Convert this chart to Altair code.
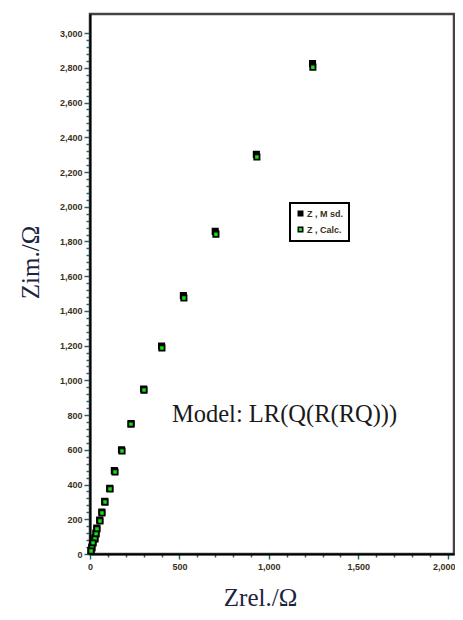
import altair as alt
import pandas as pd

# Calculated impedance (green squares)
zre_calc = [1246, 933, 704, 525, 402, 302, 229, 179, 140, 112, 84, 67, 56, 39, 34, 28, 17, 11, 6]
zim_calc = [2804, 2286, 1842, 1474, 1186, 944, 748, 593, 472, 374, 299, 236, 190, 144, 115, 86, 63, 35, 17]
# Measured impedance (black squares)
zre_msd = [1244, 930, 700, 522, 400, 300, 230, 176, 136, 110, 82, 66, 54, 38, 33, 27, 16, 10, 5]
zim_msd = [2825, 2302, 1858, 1488, 1198, 950, 752, 600, 480, 378, 303, 242, 196, 150, 120, 92, 68, 40, 20]

series_names = ["Z , M sd.", "Z , Calc."]
series_colors = ["#000000", "#10e010"]

y_ticks = list(range(0, 3001, 40))
x_ticks = list(range(0, 2001, 100))

model_label = ["Model: LR(Q(R(RQ)))"]
model_pos = [(458, 800)]

df = pd.concat([
    pd.DataFrame({"zre": zre_msd, "zim": zim_msd, "series": series_names[0], "order": 0}),
    pd.DataFrame({"zre": zre_calc, "zim": zim_calc, "series": series_names[1], "order": 1}),
], ignore_index=True)

xscale = alt.Scale(domain=[0, 2035], nice=False, zero=False)
yscale = alt.Scale(domain=[0, 3110], nice=False, zero=False)

label_col = "#3a3020"
tick_col = "#2a6464"

xaxis = alt.Axis(
    values=x_ticks, tickCount=200,
    labelExpr="datum.value % 500 === 0 ? format(datum.value, ',') : ''",
    labelOverlap=False, labelBound=False, labelFlush=False,
    labelOffset={"condition": {"test": "datum.value === 2000", "value": -4}, "value": 0},
    tickSize={"condition": {"test": "datum.value % 500 === 0", "value": 5}, "value": 3},
    tickColor=tick_col, tickWidth=1.5,
    domainColor="#000000", domainWidth=2,
    labelFont="Liberation Sans", labelFontWeight="bold", labelFontSize=9,
    labelColor=label_col, labelPadding=3, grid=False,
    title="Zrel./Ω", titleFont="Liberation Serif", titleFontSize=25,
    titleFontWeight="normal", titleColor="#1c2440",
    titleX=170, titleY=51, titleBaseline="alphabetic", titleAnchor="middle",
)
yaxis = alt.Axis(
    values=y_ticks, tickCount=200,
    labelExpr="datum.value % 200 === 0 ? format(datum.value, ',') : ''",
    labelOverlap=False, labelBound=False, labelFlush=False,
    tickSize={"condition": {"test": "datum.value % 200 === 0", "value": 6}, "value": 4},
    tickColor=tick_col, tickWidth=1.5,
    domainColor="#000000", domainWidth=2,
    labelFont="Liberation Sans", labelFontWeight="bold", labelFontSize=9,
    labelColor=label_col, labelPadding=2, grid=False,
    title="Zim./Ω", titleFont="Liberation Serif", titleFontSize=25,
    titleFontWeight="normal", titleColor="#1c2440",
    titleX=-60, titleY=248, titleAngle=-90, titleBaseline="middle", titleAnchor="middle",
)

points = alt.Chart(df).mark_point(
    shape="square", filled=True, size=28, stroke="#000000", strokeWidth=1.8, opacity=1
).encode(
    x=alt.X("zre:Q", scale=xscale, axis=xaxis),
    y=alt.Y("zim:Q", scale=yscale, axis=yaxis),
    color=alt.Color(
        "series:N",
        scale=alt.Scale(domain=series_names, range=series_colors),
        legend=alt.Legend(
            title=None, orient="none", legendX=200, legendY=189,
            strokeColor="#000000", fillColor="#ffffff",
            padding=6, rowPadding=5,
            symbolType="square", symbolSize=20, symbolStrokeColor="#000000",
            symbolStrokeWidth=1.5, symbolOpacity=1,
            labelFont="Liberation Sans", labelFontWeight="bold", labelFontSize=9,
            labelColor="#3a3020", labelOffset=2,
        ),
    ),
    order=alt.Order("order:Q"),
)

text_df = pd.DataFrame({"x": [p[0] for p in model_pos], "y": [p[1] for p in model_pos], "t": model_label})
model_text = alt.Chart(text_df).mark_text(
    align="left", baseline="middle", font="Liberation Serif", fontSize=24.5, color="#1a1a1a"
).encode(
    x=alt.X("x:Q", scale=xscale),
    y=alt.Y("y:Q", scale=yscale),
    text="t:N",
)

chart = alt.layer(points, model_text).properties(
    width=364, height=540,
    autosize=alt.AutoSizeParams(type="none"),
    padding={"left": 82, "top": 6, "right": 1, "bottom": 58},
).configure_view(
    stroke="#444444", strokeWidth=2.5
).configure_legend(
    strokeWidth=2
)

chart.save("out.html", embed_options={"renderer": "svg", "actions": False})
